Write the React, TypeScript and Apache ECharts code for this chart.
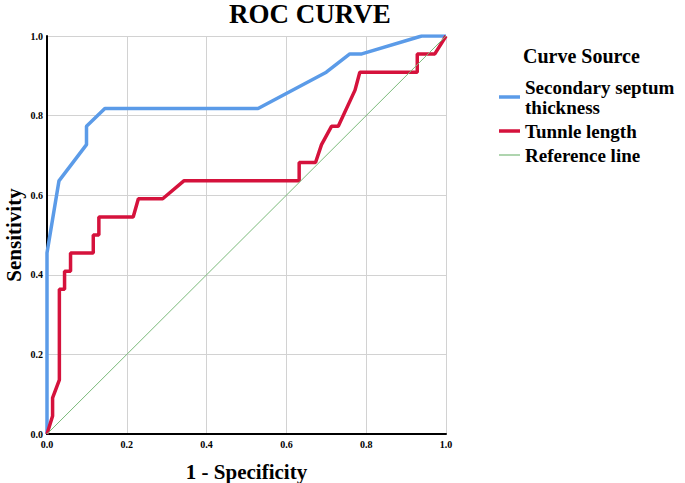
import React, { useEffect, useRef } from "react";
import * as echarts from "echarts";

const tickLabels = ["0.0", "0.2", "0.4", "0.6", "0.8", "1.0"];

const seriesNames = ["Secondary septum\nthickness", "Tunnle length", "Reference line"];

const blueX = [0, 0, 0.03, 0.099, 0.099, 0.145, 0.529, 0.7, 0.759, 0.789, 0.939, 1.0];
const blueY = [0, 0.455, 0.636, 0.727, 0.773, 0.818, 0.818, 0.909, 0.955, 0.955, 1.0, 1.0];

const redX = [0, 0.014, 0.014, 0.031, 0.031, 0.044, 0.044, 0.059, 0.059, 0.116, 0.116, 0.13, 0.13, 0.216, 0.229, 0.29, 0.343, 0.632, 0.632, 0.673, 0.688, 0.713, 0.73, 0.772, 0.784, 0.928, 0.928, 0.972, 1.0];
const redY = [0, 0.045, 0.091, 0.136, 0.364, 0.364, 0.409, 0.409, 0.455, 0.455, 0.5, 0.5, 0.545, 0.545, 0.591, 0.591, 0.636, 0.636, 0.682, 0.682, 0.727, 0.773, 0.773, 0.864, 0.909, 0.909, 0.955, 0.955, 1.0];

const refX = [0, 1];
const refY = [0, 1];

const FONT = "'Times New Roman', 'Liberation Serif', serif";

const BLUE = "#5b9be8";
const RED = "#d5123c";
const GREEN = "#7aba7a";

function zip(xs: number[], ys: number[]) {
  return xs.map((x, i) => [x, ys[i]]);
}

export default function App() {
  const ref = useRef<HTMLDivElement>(null);
  useEffect(() => {
    document.body.style.margin = "0";
    if (!ref.current) return;
    const chart = echarts.init(ref.current, undefined, { renderer: "svg" });
    const axisCommon = {
      type: "value" as const,
      min: 0,
      max: 1,
      interval: 0.2,
      axisTick: { show: false },
      axisLine: { show: true, lineStyle: { color: "#000", width: 2 } },
      splitLine: { show: true, lineStyle: { color: "#d2d2d2", width: 1 } },
      axisLabel: {
        fontFamily: FONT,
        fontWeight: "bold" as const,
        fontSize: 10,
        color: "#000",
        formatter: (v: number) => tickLabels[Math.round(v * 5)] ?? v.toFixed(1),
      },
      nameLocation: "middle" as const,
      nameMoveOverlap: false,
      nameTextStyle: { fontFamily: FONT, fontWeight: "bold" as const, fontSize: 21, lineHeight: 21, color: "#000" },
    };
    chart.setOption({
      animation: false,
      backgroundColor: "#fff",
      title: [
        {
          text: "ROC CURVE",
          left: 229,
          top: 0,
          padding: 0,
          textStyle: { fontFamily: FONT, fontWeight: "bold", fontSize: 27, color: "#000", lineHeight: 27 },
        },
        {
          text: "Curve Source",
          left: 523,
          top: 46,
          padding: 0,
          textStyle: { fontFamily: FONT, fontWeight: "bold", fontSize: 20, color: "#000" },
        },
      ],
      legend: {
        orient: "vertical",
        left: 499,
        top: 77,
        padding: 0,
        itemGap: 4,
        itemWidth: 21,
        itemHeight: 14,
        data: [
          { name: seriesNames[0], icon: "path://M0,0H21V3.5H0Z" },
          { name: seriesNames[1], icon: "path://M0,0H21V3.5H0Z" },
          { name: seriesNames[2], icon: "path://M0,0H21V1.2H0Z" },
        ],
        textStyle: { fontFamily: FONT, fontWeight: "bold", fontSize: 19, color: "#000", lineHeight: 20 },
      },
      grid: { left: 47, top: 36, right: 239, bottom: 49, containLabel: false, outerBoundsMode: "none" },
      xAxis: {
        ...axisCommon,
        name: "1 - Specificity",
        nameGap: 27,
        axisLabel: { ...axisCommon.axisLabel, margin: 5 },
      },
      yAxis: {
        ...axisCommon,
        name: "Sensitivity",
        nameGap: 23,
        axisLabel: { ...axisCommon.axisLabel, margin: 4 },
      },
      series: [
        {
          name: seriesNames[0],
          type: "line",
          data: zip(blueX, blueY),
          symbol: "none",
          lineStyle: { color: BLUE, width: 3.5 },
          itemStyle: { color: BLUE },
        },
        {
          name: seriesNames[1],
          type: "line",
          data: zip(redX, redY),
          symbol: "none",
          lineStyle: { color: RED, width: 3.5 },
          itemStyle: { color: RED },
        },
        {
          name: seriesNames[2],
          type: "line",
          data: zip(refX, refY),
          symbol: "none",
          lineStyle: { color: GREEN, width: 1 },
          itemStyle: { color: GREEN },
        },
      ],
    });
    return () => chart.dispose();
  }, []);
  return <div ref={ref} style={{ width: 685, height: 483 }} />;
}
